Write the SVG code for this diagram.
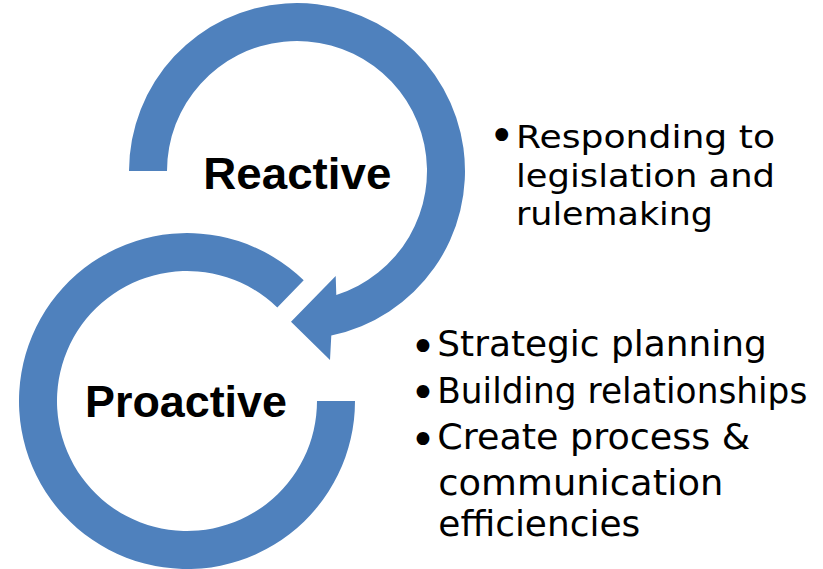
<svg xmlns="http://www.w3.org/2000/svg" width="823" height="569" viewBox="0 0 823 569">
<style>
.ring{fill:#4F81BD;stroke:none}
.lbl{font-family:"Liberation Sans",Arial,sans-serif;font-weight:bold;font-size:45px;fill:#000}
.t1{font-family:"DejaVu Sans","Noto Sans",sans-serif;font-size:32px;fill:#000}
.t2{font-family:"DejaVu Sans","Noto Sans",sans-serif;font-size:35px;fill:#000}
.bul{font-family:"DejaVu Sans",sans-serif;font-size:44px;fill:#000;text-anchor:middle}
</style>
<rect width="823" height="569" fill="#fff"/>
<g id="connectors">
<path id="reactive-arrow" class="ring" d="M129,171 A168,168 0 1 1 331.3,335.5 L330,360 L291,321.7 L335.7,276 L336.3,294.9 A130,130 0 1 0 167,171 Z"/>
<path id="proactive-arrow" class="ring" d="M355,401 A168,168 0 1 1 303.7,280.2 L277.3,307.5 A130,130 0 1 0 317,401 Z"/>
</g>
<g id="reactive">
<text class="lbl" x="203.3" y="189.3" textLength="188" lengthAdjust="spacingAndGlyphs">Reactive</text>
</g>
<g id="proactive">
<text class="lbl" x="85" y="417.3" textLength="202" lengthAdjust="spacingAndGlyphs">Proactive</text>
</g>
<g id="reactive-notes">
<text class="bul" x="501.7" y="150.5">•</text>
<text class="t1" x="516" y="148.3" textLength="259" lengthAdjust="spacingAndGlyphs">Responding to</text>
<text class="t1" x="516" y="187.3" textLength="259" lengthAdjust="spacingAndGlyphs">legislation and</text>
<text class="t1" x="516" y="225.3" textLength="197" lengthAdjust="spacingAndGlyphs">rulemaking</text>
</g>
<g id="proactive-notes">
<text class="bul" x="423" y="361.5">•</text>
<text class="t2" x="437.3" y="356" textLength="329.5" lengthAdjust="spacingAndGlyphs">Strategic planning</text>
<text class="bul" x="423" y="408.2">•</text>
<text class="t2" x="437.3" y="402.7" textLength="370" lengthAdjust="spacingAndGlyphs">Building relationships</text>
<text class="bul" x="423" y="454.8">•</text>
<text class="t2" x="437.3" y="449.3" textLength="313" lengthAdjust="spacingAndGlyphs">Create process &amp;</text>
<text class="t2" x="438.3" y="494.5" textLength="285" lengthAdjust="spacingAndGlyphs">communication</text>
<text class="t2" x="438.3" y="535.5" textLength="202" lengthAdjust="spacingAndGlyphs">efficiencies</text>
</g>
</svg>
